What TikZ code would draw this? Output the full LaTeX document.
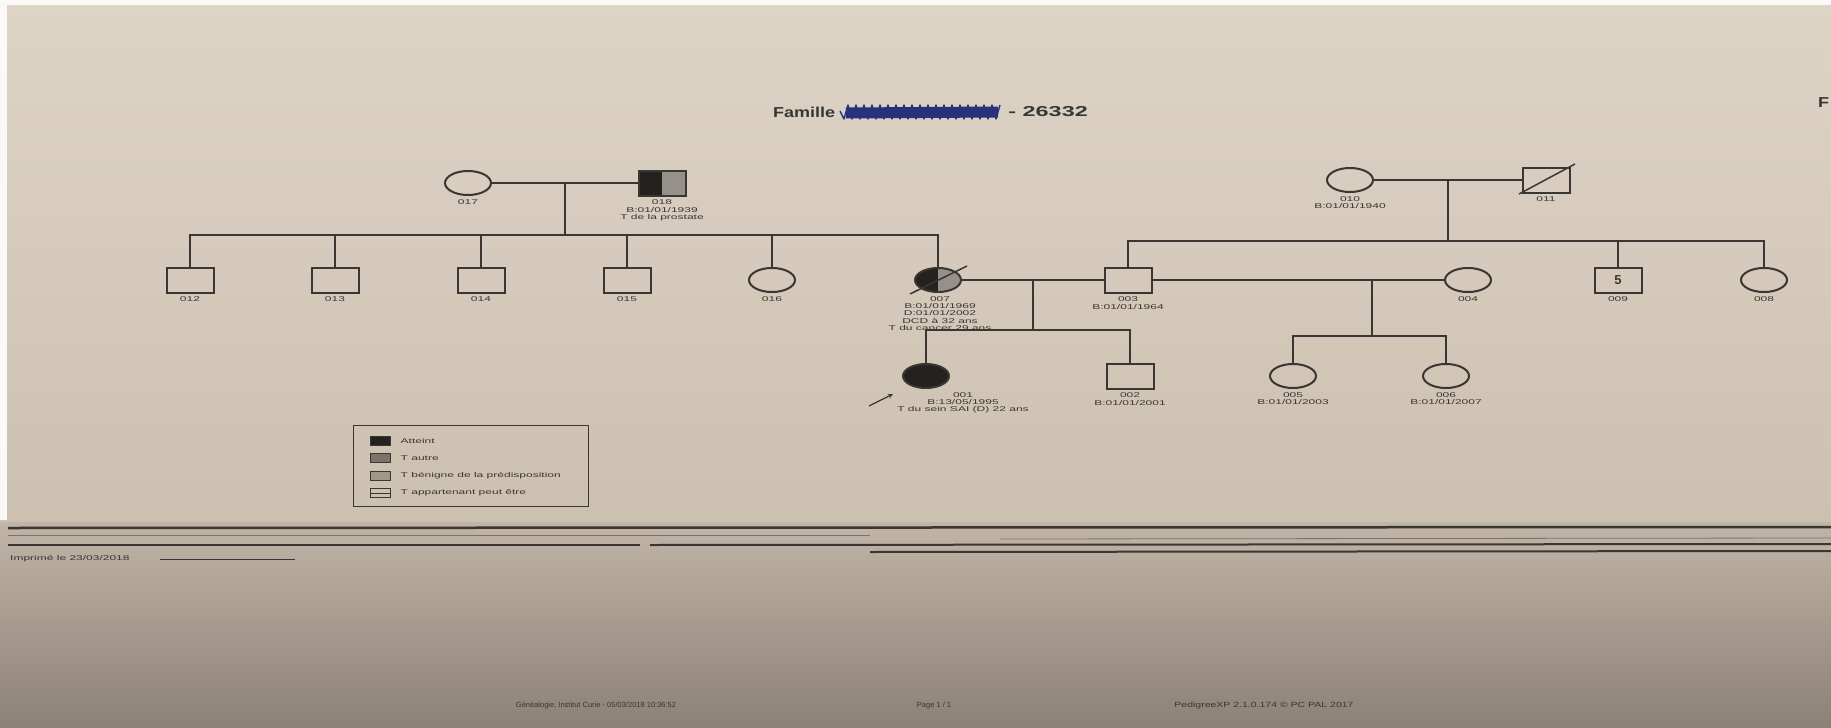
\documentclass[tikz,border=0pt]{standalone}
\usepackage{fontspec}
\setmainfont{Liberation Sans}
\usepackage{graphicx}
\usetikzlibrary{shapes.geometric,calc}
\definecolor{ink}{RGB}{58,54,50}
\definecolor{paperA}{RGB}{222,212,198}
\definecolor{paperB}{RGB}{204,192,176}
\definecolor{paperC}{RGB}{192,181,166}
\definecolor{paperD}{RGB}{140,129,117}
\definecolor{shadeA}{RGB}{36,33,31}
\definecolor{shadeB}{RGB}{150,144,138}
\definecolor{pen}{RGB}{40,50,122}
\newcommand{\sqz}[2][0.58]{\scalebox{1}[#1]{#2}}
\newcommand{\lbl}[1]{\sqz{\begin{tabular}{@{}c@{}}#1\end{tabular}}}

\begin{document}
\begin{tikzpicture}[x=1pt,y=-1pt,
  female/.style={ellipse,draw=ink,line width=2pt,minimum width=46pt,minimum height=24pt,inner sep=0pt},
  male/.style={rectangle,draw=ink,line width=2pt,minimum width=47pt,minimum height=25pt,inner sep=0pt},
  half/.style={path picture={\fill[shadeA] (path picture bounding box.south west) rectangle (path picture bounding box.north);
    \fill[shadeB] (path picture bounding box.south) rectangle (path picture bounding box.north east);}},
  link/.style={draw=ink,line width=1.5pt},
  tag/.style={font=\fontsize{12}{12.5}\selectfont,text=ink,inner sep=0pt,anchor=north},
  swatch/.style={rectangle,draw=ink,line width=1pt,minimum width=20pt,minimum height=9pt,inner sep=0pt},
  foot/.style={font=\fontsize{7.5}{9}\selectfont,text=ink,inner sep=0pt},
  heading/.style={font=\bfseries\fontsize{18}{18}\selectfont,text=ink,inner sep=0pt},
  scan/.style={draw=ink,line width=2pt}]
  \useasboundingbox (0,0) rectangle (1831,728);

  % paper
  \shade[top color=paperA,bottom color=paperB] (0,0) rectangle (1831,522);
  \shade[top color=paperC,bottom color=paperD] (0,522) rectangle (1831,728);
  \fill[white!85!paperA] (0,0) rectangle (1831,5);
  \fill[white!85!paperA] (0,0) rectangle (7,520);

  % title
  \node[heading,anchor=west] (fam) at (773,112) {\sqz[0.8]{Famille}};
  \node[heading,anchor=east] (num) at (1088,112) {\scalebox{1.3}[0.8]{- 26332}};
  \draw[pen,line width=11pt] (846,113) -- (998,112);
  \draw[pen,line width=1.4pt,line join=round] (840,111) \foreach \i in {1,...,40} {-- ({840+4*\i},{105+14*mod(\i,2)})};
  \node[heading,anchor=west] (edge) at (1818,103) {\sqz[0.8]{F}};

  % individuals
  \node[female] (p017) at (468,183) {};
  \node[male,half] (p018) at (662,183) {};
  \node[female] (p010) at (1350,180) {};
  \node[male] (p011) at (1546,180) {};

  \node[male] (p012) at (190,280) {};
  \node[male] (p013) at (335,280) {};
  \node[male] (p014) at (481,280) {};
  \node[male] (p015) at (627,280) {};
  \node[female] (p016) at (772,280) {};
  \node[female,half] (p007) at (938,280) {};
  \node[male] (p003) at (1128,280) {};
  \node[female] (p004) at (1468,280) {};
  \node[male,font=\bfseries\fontsize{13}{13}\selectfont,text=ink] (p009) at (1618,280) {5};
  \node[female] (p008) at (1764,280) {};

  \node[female,fill=shadeA] (p001) at (926,376) {};
  \node[male] (p002) at (1130,376) {};
  \node[female] (p005) at (1293,376) {};
  \node[female] (p006) at (1446,376) {};

  % couples and sibships
  \coordinate (m1) at (565,183);
  \coordinate (s1) at (565,235);
  \coordinate (m2) at (1448,180);
  \coordinate (s2) at (1448,241);
  \coordinate (m3) at (1033,280);
  \coordinate (s3) at (1033,330);
  \coordinate (m4) at (1372,280);
  \coordinate (s4) at (1372,336);

  \draw[link] (p017) -- (p018);
  \draw[link] (p010) -- (p011);
  \draw[link] (p007) -- (p003);
  \draw[link] (p003) -- (p004);
  \draw[link] (m1) -- (s1);
  \draw[link] (m2) -- (s2);
  \draw[link] (m3) -- (s3);
  \draw[link] (m4) -- (s4);
  \foreach \k in {012,013,014,015,016,007}
    \draw[link] (s1) -| (p\k.north);
  \foreach \k in {003,009,008}
    \draw[link] (s2) -| (p\k.north);
  \foreach \k in {001,002}
    \draw[link] (s3) -| (p\k.north);
  \foreach \k in {005,006}
    \draw[link] (s4) -| (p\k.north);

  % deceased
  \draw[link] ($(p007)+(-28,14)$) -- ($(p007)+(29,-14)$);
  \draw[link] ($(p011)+(-27,14)$) -- ($(p011)+(29,-16)$);

  % proband
  \coordinate (a1) at ($(p001)+(-57,30)$);
  \draw[link,line width=1.3pt,-stealth] (a1) -- ($(p001)+(-33,18)$);

  % labels
  \node[tag] (t017) at ($(p017.south)+(0,3)$) {\lbl{017}};
  \node[tag] (t018) at ($(p018.south)+(0,3)$) {\lbl{018\\B:01/01/1939\\T de la prostate}};
  \node[tag] (t010) at ($(p010.south)+(0,3)$) {\lbl{010\\B:01/01/1940}};
  \node[tag] (t011) at ($(p011.south)+(0,3)$) {\lbl{011}};
  \foreach \k in {012,013,014,015,016,004,009,008}
    \node[tag] (t\k) at ($(p\k.south)+(0,3)$) {\lbl{\k}};
  \node[tag] (t007) at ($(p007.south)+(2,3)$) {\lbl{007\\B:01/01/1969\\D:01/01/2002\\DCD à 32 ans\\T du cancer 29 ans}};
  \node[tag] (t003) at ($(p003.south)+(0,3)$) {\lbl{003\\B:01/01/1964}};
  \node[tag] (t001) at ($(p001.south)+(37,3)$) {\lbl{001\\B:13/05/1995\\T du sein SAI (D) 22 ans}};
  \node[tag] (t002) at ($(p002.south)+(0,3)$) {\lbl{002\\B:01/01/2001}};
  \node[tag] (t005) at ($(p005.south)+(0,3)$) {\lbl{005\\B:01/01/2003}};
  \node[tag] (t006) at ($(p006.south)+(0,3)$) {\lbl{006\\B:01/01/2007}};

  % legend
  \node[draw=ink,line width=0.8pt,minimum width=235pt,minimum height=81pt,anchor=north west] (legend) at (353,425) {};
  \node[swatch,fill=shadeA] (k1) at (380,441) {};
  \node[swatch,fill=ink!55!paperB] (k2) at (380,458) {};
  \node[swatch,fill=ink!30!paperB] (k3) at (380,476) {};
  \node[swatch,path picture={\draw[ink,line width=0.8pt] (path picture bounding box.west) -- (path picture bounding box.east);}] (k4) at (380,493) {};
  \node[tag,anchor=west] (l1) at ($(k1.east)+(10,0)$) {\sqz{Atteint}};
  \node[tag,anchor=west] (l2) at ($(k2.east)+(10,0)$) {\sqz{T autre}};
  \node[tag,anchor=west] (l3) at ($(k3.east)+(10,0)$) {\sqz{T bénigne de la prédisposition}};
  \node[tag,anchor=west] (l4) at ($(k4.east)+(10,0)$) {\sqz{T appartenant peut être}};

  % fold and scan lines
  \draw[scan,line width=2.5pt] (8,528) -- (1831,527);
  \draw[scan,line width=0.8pt,draw=ink!55!paperB] (8,535) -- (870,535);
  \draw[scan,line width=0.8pt,draw=ink!55!paperB] (1000,539) -- (1831,538);
  \draw[scan,line width=1.5pt] (8,545) -- (640,545);
  \draw[scan] (650,545) -- (1831,544);
  \draw[scan] (870,552) -- (1831,551);
  \draw[scan,line width=1pt] (160,559) -- (295,559);
  \node[tag,anchor=west] (printed) at (10,559) {\sqz{Imprimé le 23/03/2018}};

  % footer
  \node[foot] (f1) at (596,706) {Généalogie, Institut Curie - 05/03/2018 10:36:52};
  \node[foot] (f2) at (934,706) {Page 1 / 1};
  \node[foot] (f3) at (1264,706) {\scalebox{1.4}[1]{PedigreeXP 2.1.0.174 © PC PAL 2017}};
\end{tikzpicture}
\end{document}
